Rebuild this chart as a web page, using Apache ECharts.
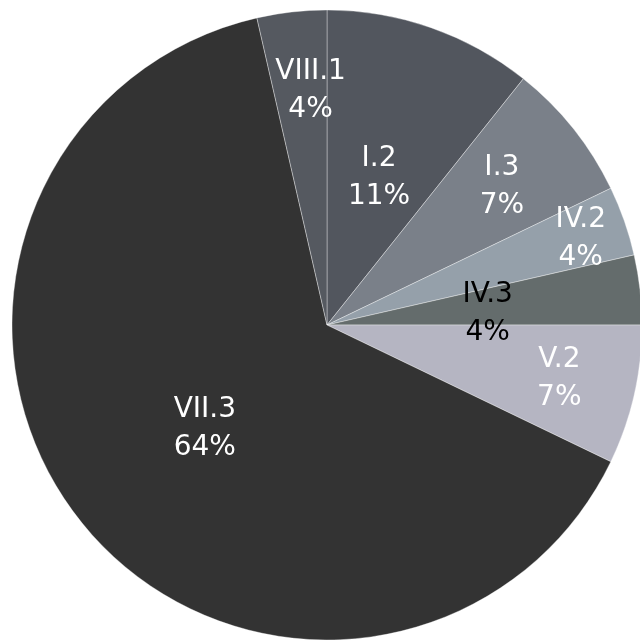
<!DOCTYPE html>
<html>
<head>
<meta charset="utf-8">
<script src="https://cdn.jsdelivr.net/npm/echarts@6/dist/echarts.min.js"></script>
<style>html,body{margin:0;padding:0;background:#fff;}#c{width:640px;height:644px;}</style>
</head>
<body>
<div id="c"></div>
<script>
const categories = ['I.2', 'I.3', 'IV.2', 'IV.3', 'V.2', 'VII.3', 'VIII.1'];
const values = [3, 2, 1, 1, 2, 18, 1];
const colors = ['#52565e', '#7a8089', '#95a0aa', '#646c6c', '#b5b5c2', '#333333', '#555960'];
const labelColors = ['#fff', '#fff', '#fff', '#000', '#fff', '#fff', '#fff'];
// label placement style: distance from centre (fraction of radius) and small nudges
const labelRadiusFrac = [0.5, 0.71, 0.85, 0.51, 0.75, 0.5, 0.75];
const labelNudgeX = [0, 0, 1, 1, 2, 1, 10];
const labelNudgeY = [1, 1, 2, 7, 1, 6, 0];

const CX = 327, CY = 325, R = 315;
const chart = echarts.init(document.getElementById('c'));
chart.setOption({
  animation: false,
  series: [{
    type: 'pie',
    center: [CX, CY],
    radius: [0, R],
    startAngle: 90,
    clockwise: true,
    avoidLabelOverlap: false,
    minShowLabelAngle: 0,
    itemStyle: { borderColor: 'rgba(255,255,255,0.45)', borderWidth: 0.8 },
    label: {
      position: 'inside',
      formatter: function (p) { return p.name + '\n' + Math.round(p.percent) + '%'; },
      fontFamily: 'DejaVu Sans',
      fontSize: 28,
      lineHeight: 38
    },
    labelLine: { show: false },
    labelLayout: function (params) {
      const i = params.dataIndex;
      const r = params.labelRect;
      const lx = r.x + r.width / 2, ly = r.y + r.height / 2;
      const vx = lx - CX, vy = ly - CY;
      const d = Math.sqrt(vx * vx + vy * vy) || 1;
      const k = labelRadiusFrac[i] * R / d;
      return { dx: vx * k - vx + labelNudgeX[i], dy: vy * k - vy + labelNudgeY[i], hideOverlap: false };
    },
    data: categories.map((n, i) => ({
      name: n, value: values[i],
      itemStyle: { color: colors[i] },
      label: { color: labelColors[i], show: true }
    }))
  }]
});
</script>
</body>
</html>
